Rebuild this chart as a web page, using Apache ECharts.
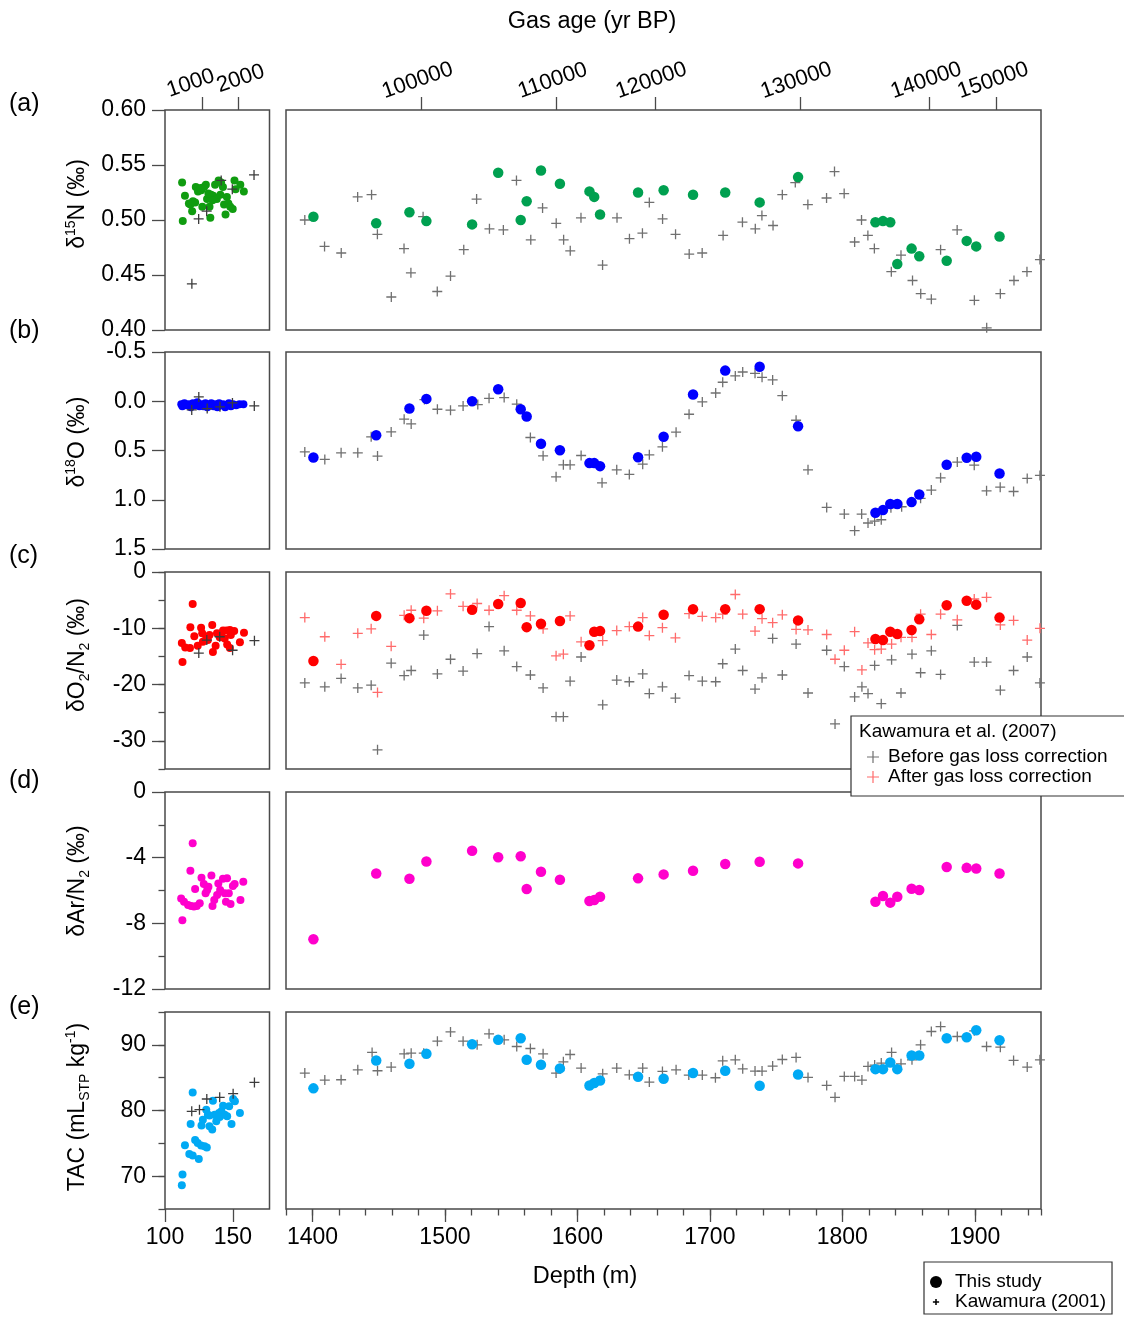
<!DOCTYPE html>
<html>
<head>
<meta charset="utf-8">
<script src="https://cdn.jsdelivr.net/npm/echarts@6/dist/echarts.min.js"></script>
<style>
html, body { margin: 0; padding: 0; background: #fff; }
#chart { width: 1124px; height: 1317px; }
</style>
</head>
<body>
<div id="chart"></div>
<script>
// ---- data: deep samples (this study), shared depths ----
const studyDepth = [1400.7, 1448.1, 1473.2, 1486.0, 1520.5, 1540.2, 1557.2, 1561.7, 1572.5, 1586.8,
    1609.1, 1612.7, 1617.1, 1645.8, 1665.1, 1687.3, 1711.6, 1737.6, 1766.6, 1825.0,
    1830.7, 1836.2, 1841.5, 1852.3, 1858.1, 1878.8, 1893.9, 1901.1, 1918.7];
const d15nDeep = [0.503, 0.497, 0.507, 0.499, 0.496, 0.543, 0.500, 0.517, 0.545, 0.533,
    0.526, 0.521, 0.505, 0.525, 0.527, 0.523, 0.525, 0.516, 0.539, 0.498,
    0.499, 0.498, 0.460, 0.474, 0.467, 0.463, 0.481, 0.476, 0.485];
const d18oDeep = [0.571, 0.345, 0.074, -0.024, 0.000, -0.122, 0.081, 0.155, 0.432, 0.497,
    0.628, 0.628, 0.659, 0.568, 0.361, -0.068, -0.311, -0.351, 0.253, 1.132,
    1.105, 1.044, 1.044, 1.024, 0.946, 0.645, 0.574, 0.564, 0.733];
const o2n2Deep = [-15.8, -7.8, -8.2, -6.9, -6.7, -5.7, -5.5, -9.8, -9.2, -8.7,
    -13.0, -10.6, -10.5, -9.7, -7.6, -6.6, -6.6, -6.6, -8.6, -11.9,
    -12.1, -10.6, -11.0, -10.3, -8.4, -5.9, -5.1, -5.8, -8.1];
const arn2Deep = [-8.97, -4.96, -5.28, -4.23, -3.58, -3.97, -3.91, -5.91, -4.86, -5.34,
    -6.64, -6.58, -6.38, -5.26, -5.02, -4.80, -4.39, -4.25, -4.35, -6.68,
    -6.34, -6.74, -6.38, -5.89, -5.97, -4.57, -4.62, -4.66, -4.96];
const tacDeep = [83.37, 87.62, 87.11, 88.63, 90.10, 90.76, 91.01, 87.72, 86.96, 86.41,
    83.80, 84.18, 84.58, 85.14, 84.84, 85.70, 86.05, 83.77, 85.49, 86.30,
    86.30, 87.32, 86.30, 88.38, 88.38, 91.01, 91.16, 92.23, 90.71];

// ---- data: shallow samples (this study), [depth, value] ----
const d15nShallow = [[112.6,0.534],[114.7,0.522],[113.1,0.499],[117.6,0.515],[118.7,0.514],[120.0,0.508],[120.6,0.517],
    [122.7,0.530],[124.3,0.526],[126.7,0.527],[127.5,0.512],[128.8,0.530],[130.1,0.532],[131.0,0.519],[132.8,0.512],
    [133.4,0.502],[133.9,0.523],[135.5,0.522],[136.9,0.532],[138.2,0.519],[139.5,0.536],[140.8,0.523],[141.3,0.534],
    [142.7,0.530],[143.5,0.514],[144.6,0.505],[145.6,0.521],[146.7,0.515],[148.1,0.512],[149.9,0.510],[151.2,0.536],
    [152.0,0.528],[155.5,0.532],[158.1,0.526],[135.0,0.518],[132.0,0.524],[126.2,0.529],[122.2,0.516]];
const d18oShallow = [[112.0,0.03],[112.8,0.05],[114.3,0.02],[115.9,0.04],[117.6,0.03],[119.0,0.06],[120.6,0.02],
    [122.4,0.04],[123.8,0.01],[125.3,0.05],[126.9,0.03],[128.2,0.05],[129.8,0.02],[131.2,0.06],[132.9,0.04],
    [134.1,0.02],[135.7,0.05],[137.0,0.03],[138.6,0.06],[139.9,0.02],[141.4,0.04],[142.9,0.03],[144.3,0.06],
    [145.8,0.04],[147.1,0.02],[148.6,0.05],[150.2,0.03],[152.4,0.04],[154.9,0.03],[157.8,0.03]];
const o2n2Shallow = [[120.4,-5.7],[112.4,-12.6],[112.9,-16.0],[114.9,-13.4],[118.4,-13.5],[118.7,-9.8],[121.6,-11.4],
    [124.1,-13.1],[126.6,-9.9],[127.4,-10.9],[130.4,-11.8],[132.8,-11.2],[134.8,-9.4],[135.3,-14.2],[137.3,-13.1],
    [138.3,-10.9],[141.6,-10.9],[142.8,-10.4],[144.0,-11.8],[145.3,-10.4],[145.8,-12.9],[147.8,-13.5],[148.5,-11.2],
    [151.0,-10.5],[155.2,-12.5],[158.2,-10.8],[127.9,-12.4],[131.6,-12.1],[140.3,-11.6],[147.8,-10.3]];
const arn2Shallow = [[120.4,-3.12],[112.8,-7.81],[111.9,-6.48],[114.0,-6.68],[117.0,-6.88],[119.2,-6.94],[121.3,-6.98],
    [123.4,-6.94],[125.6,-6.78],[118.7,-4.80],[122.2,-5.91],[126.9,-5.22],[128.6,-5.61],[129.9,-6.17],[131.1,-5.97],
    [132.0,-5.77],[134.2,-5.08],[135.0,-6.94],[136.3,-6.58],[138.4,-6.28],[139.3,-5.57],[140.6,-5.97],[142.7,-5.28],
    [144.0,-6.17],[144.9,-6.68],[145.7,-5.26],[147.0,-6.17],[148.3,-6.82],[150.0,-5.73],[151.3,-5.61],[155.6,-6.58],[157.7,-5.47]];
const tacShallow = [[112.4,68.63],[112.9,70.25],[114.7,74.71],[117.9,73.39],[120.4,73.14],[124.9,72.63],[122.2,75.52],
    [124.1,75.06],[126.6,74.66],[129.1,74.56],[130.8,74.35],[118.9,77.95],[120.4,82.76],[126.9,77.70],[127.9,78.61],
    [130.4,80.13],[131.6,79.37],[132.8,77.59],[134.8,77.09],[135.3,81.49],[136.6,79.37],[137.8,78.35],[139.8,79.62],
    [141.6,79.87],[142.8,80.73],[144.0,79.37],[145.8,79.11],[147.3,80.63],[149.0,77.95],[150.2,81.75],[151.5,81.39],
    [155.2,79.62],[140.3,79.01],[132.8,79.22]];

// ---- data: Kawamura (2001), shallow ----
const d15nKawaShallow = [[119.8,0.442],[124.8,0.501],[130.7,0.508],[141.4,0.536],[149.6,0.528],[165.6,0.541]];
const d18oKawaShallow = [[119.7,0.088],[124.9,-0.044],[131.1,0.074],[140.5,0.057],[149.7,0.017],[165.8,0.047]];
const o2n2KawaShallow = [[124.9,-14.4],[130.8,-12.1],[140.3,-11.5],[149.8,-13.9],[165.9,-12.2]];
const tacKawaShallow = [[119.7,79.87],[125.4,80.13],[130.8,81.75],[140.3,82.0],[150.2,82.56],[165.9,84.28]];

// ---- data: Kawamura, deep ----
const d15nKawaDeep = [[1394.2,0.500],[1409.1,0.476],[1421.7,0.470],[1434.1,0.521],[1444.6,0.523],[1449,0.487],[1459.5,0.430],
    [1469.1,0.474],[1474.3,0.452],[1483.5,0.503],[1494.2,0.435],[1504.2,0.449],[1514.2,0.473],[1523.9,0.519],[1533.6,0.492],
    [1544.1,0.491],[1554,0.536],[1564.8,0.482],[1573.7,0.511],[1584,0.497],[1589.6,0.482],[1594.6,0.472],[1602.7,0.502],
    [1619,0.459],[1629.9,0.502],[1639.3,0.483],[1649.1,0.488],[1654.3,0.516],[1664.3,0.501],[1674.1,0.487],[1684.4,0.469],
    [1694.2,0.470],[1710,0.486],[1724.6,0.498],[1734.3,0.492],[1739.3,0.504],[1747.7,0.495],[1754.7,0.523],[1764.5,0.534],
    [1774,0.514],[1788.1,0.520],[1794.1,0.544],[1801.4,0.524],[1809.3,0.480],[1814.5,0.500],[1819.3,0.486],[1824.2,0.474],
    [1837,0.453],[1844.3,0.468],[1853,0.445],[1859.2,0.433],[1867.2,0.428],[1874.2,0.473],[1886.7,0.491],[1899.7,0.427],
    [1909,0.402],[1919.3,0.433],[1929.6,0.445],[1939.4,0.453],[1949.2,0.464]];
const d18oKawaDeep = [[1394.2,0.514],[1409.3,0.591],[1421.6,0.524],[1434.2,0.524],[1444.3,0.361],[1449.1,0.557],[1459.4,0.311],
    [1469.2,0.182],[1474.5,0.230],[1484.5,-0.017],[1494.3,0.081],[1504.2,0.091],[1513.7,0.047],[1524.8,0.034],[1533.3,-0.030],
    [1544.7,-0.037],[1554.2,0.030],[1564.5,0.368],[1574.1,0.554],[1583.9,0.767],[1589.4,0.645],[1594.5,0.645],[1602.8,0.551],
    [1618.6,0.828],[1629.7,0.696],[1639.2,0.743],[1649.3,0.639],[1654.3,0.544],[1664.2,0.463],[1674.5,0.314],[1684.3,0.132],
    [1694.3,0.007],[1704.4,-0.084],[1709.7,-0.193],[1719.2,-0.257],[1724.8,-0.297],[1734.1,-0.284],[1739.4,-0.243],
    [1747.4,-0.216],[1754.7,-0.057],[1765.1,0.193],[1774.1,0.696],[1788.2,1.078],[1801.5,1.145],[1809.3,1.314],[1814.6,1.145],
    [1819.4,1.236],[1824.4,1.216],[1829.4,1.203],[1836.7,1.081],[1844.8,1.071],[1859.1,0.986],[1867.2,0.902],[1874.2,0.777],
    [1886.8,0.618],[1899.6,0.649],[1908.9,0.909],[1919.2,0.872],[1929.3,0.916],[1939.6,0.784],[1949.2,0.753]];
const o2n2BeforeDeep = [[1394.2,-19.7],[1409.3,-20.4],[1421.6,-18.9],[1434.2,-20.6],[1444.3,-20.1],[1449.1,-31.6],[1459.4,-16.2],
    [1469.2,-18.4],[1474.5,-17.5],[1484,-11.2],[1494.3,-18.1],[1504.2,-15.5],[1513.7,-17.6],[1524.3,-14.5],[1533.3,-9.7],
    [1544.7,-14.0],[1554.2,-16.8],[1564.5,-18.3],[1574.1,-20.6],[1583.9,-25.7],[1589.4,-25.7],[1594.5,-19.4],[1602.8,-15.1],
    [1619.1,-23.6],[1629.7,-19.2],[1639.2,-19.5],[1649.3,-18.1],[1654.3,-21.6],[1664.2,-20.4],[1674,-22.4],[1684.3,-18.4],
    [1694.3,-19.4],[1704.4,-19.5],[1709.7,-16.3],[1719.2,-13.7],[1724.8,-17.5],[1734.1,-20.8],[1739.4,-18.8],[1747.4,-11.8],
    [1754.7,-18.3],[1765.1,-12.8],[1774.1,-21.5],[1788.2,-13.9],[1794.5,-27.0],[1801.5,-16.8],[1809.3,-22.2],[1814.8,-20.4],
    [1819.4,-21.6],[1824.4,-16.6],[1829.4,-23.4],[1837.2,-15.6],[1844.3,-21.5],[1852.6,-14.6],[1859.1,-17.9],[1867.2,-14.0],
    [1874.2,-18.2],[1886.8,-9.5],[1899.6,-16.0],[1908.9,-16.0],[1919.3,-21.0],[1929.3,-17.5],[1939.6,-15.1],[1949.2,-19.7]];
const o2n2AfterDeep = [[1394.2,-8.1],[1409.3,-11.5],[1421.6,-16.4],[1434.2,-10.9],[1444.3,-10.1],[1449.1,-21.4],[1459.4,-13.2],
    [1469.2,-7.7],[1474.5,-6.8],[1484,-8.2],[1494.3,-6.9],[1504.2,-3.9],[1513.7,-6.1],[1524.3,-5.6],[1533.3,-6.8],
    [1544.7,-4.2],[1554.2,-6.8],[1564.5,-7.8],[1574.1,-10.1],[1583.9,-14.9],[1589.4,-14.6],[1594.5,-7.8],[1602.8,-12.4],
    [1619.1,-12.2],[1629.7,-10.4],[1639.2,-9.7],[1649.3,-8.1],[1654.3,-11.3],[1664.2,-9.9],[1674,-11.7],[1684.3,-7.4],
    [1694.3,-7.9],[1704.4,-8.1],[1709.7,-7.5],[1719.2,-4.0],[1724.8,-7.5],[1734.1,-10.5],[1739.4,-8.3],[1747.4,-9.0],
    [1754.7,-7.6],[1765.1,-10.2],[1774.1,-10.3],[1788.2,-11.1],[1794.5,-15.5],[1801.5,-13.9],[1809.3,-10.6],[1814.8,-17.4],
    [1819.4,-12.6],[1824.4,-13.8],[1829.4,-13.7],[1837.2,-12.8],[1844.3,-11.6],[1852.6,-11.6],[1859.1,-7.5],[1867.2,-11.1],
    [1874.2,-7.5],[1886.8,-8.5],[1899.6,-4.8],[1908.9,-4.5],[1919.3,-9.4],[1929.3,-8.6],[1939.6,-12.1],[1949.2,-10.0]];
const tacKawaDeep = [[1394.2,85.70],[1409.3,84.63],[1421.6,84.68],[1434.2,86.20],[1445,88.84],[1449.1,86.05],[1459.4,86.61],
    [1469.2,88.63],[1474.5,88.73],[1484,88.73],[1494.3,90.56],[1504.2,91.97],[1513.7,90.56],[1524.3,90.00],[1533.3,91.67],
    [1544.7,90.76],[1554.2,89.75],[1564.5,89.44],[1574.1,88.63],[1583.9,85.70],[1589.4,87.42],[1594.5,88.53],[1602.8,86.46],
    [1619.1,85.59],[1629.7,86.46],[1639.2,85.44],[1649.3,86.46],[1654.3,84.33],[1664.2,85.95],[1674.5,86.20],[1684.1,85.39],
    [1694.3,85.39],[1704.2,84.99],[1709.7,87.57],[1719.2,87.72],[1724.8,86.35],[1734.1,86.00],[1739.4,86.00],[1747.4,86.76],
    [1754.7,87.77],[1765.1,88.08],[1774.1,85.04],[1788.2,83.82],[1794.5,82.00],[1801.5,85.19],[1809.3,85.19],[1814.8,84.63],
    [1819.4,86.71],[1824.4,86.91],[1829.4,87.22],[1837.2,88.84],[1844.3,87.11],[1852.6,87.72],[1859.1,90.00],[1867.2,92.03],
    [1874.2,92.78],[1886.8,91.27],[1899.6,92.13],[1908.9,89.75],[1919.3,89.65],[1929.3,87.62],[1939.6,86.61],[1949.2,87.72]];

// ---- tick labels ----
const depthTicksShallow = [100, 150];
const depthTicksDeep = [1400, 1500, 1600, 1700, 1800, 1900];
const ageLabelsShallow = ['1000', '2000'];
const ageDepthShallow = [127.2, 154.2];
const ageLabelsDeep = ['100000', '110000', '120000', '130000', '140000', '150000'];
const ageDepthDeep = [1482, 1584, 1658.5, 1768, 1866, 1916.5];
const o2n2Ticks = [-30, -20, -10, 0];
const tacTicks = [70, 80, 90];

// ---- styling ----
const FONT = '"Liberation Sans", Arial, Helvetica, sans-serif';
const BORDER = '#4a4a4a';
const PLUS = 'path://M0,4.35H10V5.65H0Z M4.35,0H5.65V10H4.35Z';
const PLUS_LEG = 'path://M0,4.5H10V5.5H0Z M4.5,0H5.5V10H4.5Z';
const PLUS_SMALL = 'path://M0,0H0.01V0.01H0Z M9.99,9.99H10V10H9.99Z M2.4,4.35H7.6V5.65H2.4Z M4.35,2.4H5.65V7.6H4.35Z';
const rowTop = [110, 352, 572, 792, 1012];
const rowHeight = [220, 197, 197, 197, 197];
const shallowColor = ['#109c10', '#0000ff', '#ff0000', '#ff00cc', '#00a9f4'];
const deepColor = ['#00a050', '#0000ff', '#ff0000', '#ff00cc', '#00a9f4'];
const tickLine = { color: BORDER, width: 1.3 };
const tickLabel = { color: '#000', fontSize: 23, fontFamily: FONT };

const yCfg = [
    { min: 0.40, max: 0.60, interval: 0.05, formatter: function (v) { return v.toFixed(2); } },
    { min: -0.5, max: 1.5, interval: 0.5, inverse: true, formatter: function (v) { return v.toFixed(1); } },
    { min: -35, max: 0, custom: o2n2Ticks, minorStep: 5 },
    { min: -12, max: 0, interval: 4, minorSplit: 2 },
    { min: 65, max: 95, custom: tacTicks, minorStep: 5 }
];

const grid = [], xAxis = [], yAxis = [], series = [];

for (let r = 0; r < 5; r++) {
    grid.push({ left: 165, top: rowTop[r], width: 104.5, height: rowHeight[r], show: true, borderColor: BORDER, borderWidth: 1.5 });
    grid.push({ left: 286, top: rowTop[r], width: 755, height: rowHeight[r], show: true, borderColor: BORDER, borderWidth: 1.5 });
}

// bottom depth axes, one per grid
for (let i = 0; i < 10; i++) {
    const shallow = i % 2 === 0;
    const xa = {
        gridIndex: i, type: 'value', position: 'bottom',
        min: shallow ? 100 : 1380, max: shallow ? 177 : 1950,
        splitLine: { show: false }, axisLine: { show: false }
    };
    if (i < 8) {
        xa.show = false;
    } else {
        const ticks = shallow ? depthTicksShallow : depthTicksDeep;
        xa.axisTick = { length: 13, customValues: ticks, lineStyle: tickLine };
        xa.axisLabel = Object.assign({
            customValues: ticks, margin: 17, interval: 0, hideOverlap: false,
            showMinLabel: true, showMaxLabel: true,
            formatter: function (v) { return String(v); }
        }, tickLabel);
    }
    xAxis.push(xa);
}
// minor depth ticks of the deep panel
xAxis.push({
    gridIndex: 9, type: 'value', position: 'bottom', min: 1380, max: 1950, interval: 20,
    splitLine: { show: false }, axisLine: { show: false },
    axisTick: { length: 6.5, lineStyle: tickLine }, axisLabel: { show: false }
});
// gas age axes on top: one axis per label so that the tilted labels are never auto-hidden
function ageAxis(g, min, max, depth, label, shift) {
    return {
        gridIndex: g, type: 'value', position: 'top', min: min, max: max,
        splitLine: { show: false }, axisLine: { show: false },
        axisTick: { length: 13, customValues: [depth], lineStyle: tickLine },
        axisLabel: {
            customValues: [depth], rotate: -19, align: 'center', verticalAlign: 'bottom', margin: 19,
            interval: 0, hideOverlap: false,
            color: '#000', fontSize: 22, fontFamily: FONT,
            formatter: function () { return shift ? '{' + shift + '|' + label + '}' : label; },
            rich: {
                l: { fontSize: 22, fontFamily: FONT, color: '#000', padding: [0, 16, 0, 0] },
                r: { fontSize: 22, fontFamily: FONT, color: '#000', padding: [0, 0, 0, 12] }
            }
        }
    };
}
ageLabelsShallow.forEach(function (lab, k) {
    xAxis.push(ageAxis(0, 100, 177, ageDepthShallow[k], lab, k === 0 ? 'l' : 'r'));
});
ageLabelsDeep.forEach(function (lab, k) {
    xAxis.push(ageAxis(1, 1380, 1950, ageDepthDeep[k], lab, null));
});

// y axes
yCfg.forEach(function (c, r) {
    const ya = {
        gridIndex: 2 * r, type: 'value', position: 'left', min: c.min, max: c.max, inverse: !!c.inverse,
        splitLine: { show: false }, axisLine: { show: false },
        axisTick: { show: true, length: 13, lineStyle: tickLine },
        axisLabel: Object.assign({ margin: 19, showMinLabel: true, showMaxLabel: true }, tickLabel)
    };
    if (c.interval) ya.interval = c.interval;
    if (c.formatter) ya.axisLabel.formatter = c.formatter;
    if (c.custom) {
        ya.axisTick.customValues = c.custom;
        ya.axisLabel.customValues = c.custom;
    }
    if (c.minorSplit) ya.minorTick = { show: true, splitNumber: c.minorSplit, length: 6.5, lineStyle: tickLine };
    yAxis.push(ya);
    yAxis.push({ gridIndex: 2 * r + 1, type: 'value', min: c.min, max: c.max, inverse: !!c.inverse, show: false });
});
yCfg.forEach(function (c, r) {
    if (!c.minorStep) return;
    yAxis.push({
        gridIndex: 2 * r, type: 'value', position: 'left', min: c.min, max: c.max, interval: c.minorStep,
        splitLine: { show: false }, axisLine: { show: false },
        axisTick: { length: 6.5, lineStyle: tickLine }, axisLabel: { show: false }
    });
});

function scatter(name, g, data, symbol, size, color, z) {
    return {
        name: name, type: 'scatter', xAxisIndex: g, yAxisIndex: g, data: data,
        symbol: symbol, symbolSize: size, itemStyle: { color: color, opacity: 1 },
        z: z, silent: true
    };
}
function zipDeep(vals) {
    return studyDepth.map(function (d, i) { return [d, vals[i]]; });
}

const shallowStudy = [d15nShallow, d18oShallow, o2n2Shallow, arn2Shallow, tacShallow];
const shallowKawa = [d15nKawaShallow, d18oKawaShallow, o2n2KawaShallow, null, tacKawaShallow];
const deepStudy = [d15nDeep, d18oDeep, o2n2Deep, arn2Deep, tacDeep];
const deepKawa = [d15nKawaDeep, d18oKawaDeep, null, null, tacKawaDeep];

for (let r = 0; r < 5; r++) {
    series.push(scatter('This study', 2 * r, shallowStudy[r], 'circle', 8, shallowColor[r], 2));
    if (shallowKawa[r]) series.push(scatter('Kawamura (2001)', 2 * r, shallowKawa[r], PLUS, 10, '#3c3c3c', 3));
    if (deepKawa[r]) series.push(scatter('Kawamura (2001)', 2 * r + 1, deepKawa[r], PLUS, 10, '#707070', 2));
    if (r === 2) {
        series.push(scatter('Before gas loss correction', 5, o2n2BeforeDeep, PLUS, 10, '#707070', 2));
        series.push(scatter('After gas loss correction', 5, o2n2AfterDeep, PLUS, 10, '#ff6b6b', 2));
    }
    series.push(scatter('This study', 2 * r + 1, zipDeep(deepStudy[r]), 'circle', 10.5, deepColor[r], 3));
}

// axis titles (rich text for sub/superscripts)
const titleRich = {
    n: { fontSize: 23, fontFamily: FONT, color: '#000', lineHeight: 28 },
    s: { fontSize: 14, fontFamily: FONT, color: '#000', verticalAlign: 'top', lineHeight: 14 },
    u: { fontSize: 14, fontFamily: FONT, color: '#000', verticalAlign: 'bottom', lineHeight: 14 }
};
const yTitles = [
    '{n|δ}{s|15}{n|N (‰)}',
    '{n|δ}{s|18}{n|O (‰)}',
    '{n|δO}{u|2}{n|/N}{u|2}{n| (‰)}',
    '{n|δAr/N}{u|2}{n| (‰)}',
    '{n|TAC (mL}{u|STP}{n| kg}{s|-1}{n|)}'
];
const yTitleCenter = [204, 442, 655, 881, 1107];
const panelTags = ['(a)', '(b)', '(c)', '(d)', '(e)'];
const panelTagY = [104, 331, 556, 781, 1007];

const graphic = [];
yTitles.forEach(function (t, r) {
    graphic.push({
        type: 'text', x: 78, y: yTitleCenter[r], rotation: Math.PI / 2, silent: true,
        style: { text: t, rich: titleRich, align: 'center', verticalAlign: 'middle', fontSize: 23, fontFamily: FONT, fill: '#000' }
    });
});
panelTags.forEach(function (t, r) {
    graphic.push({
        type: 'text', x: 9, y: panelTagY[r], silent: true,
        style: { text: t, align: 'left', verticalAlign: 'middle', fontSize: 25, fontFamily: FONT, fill: '#000' }
    });
});
graphic.push({
    type: 'text', x: 592, y: 22, silent: true,
    style: { text: 'Gas age (yr BP)', align: 'center', verticalAlign: 'middle', fontSize: 23.5, fontFamily: FONT, fill: '#000' }
});
graphic.push({
    type: 'text', x: 585, y: 1277, silent: true,
    style: { text: 'Depth (m)', align: 'center', verticalAlign: 'middle', fontSize: 23.5, fontFamily: FONT, fill: '#000' }
});
graphic.push({
    type: 'text', x: 859, y: 732, z: 50, silent: true,
    style: { text: 'Kawamura et al. (2007)', align: 'left', verticalAlign: 'middle', fontSize: 19, fontFamily: FONT, fill: '#000' }
});

const legendText = { color: '#000', fontSize: 19, fontFamily: FONT, lineHeight: 20 };

const chart = echarts.init(document.getElementById('chart'), null, { renderer: 'canvas' });
chart.setOption({
    animation: false,
    backgroundColor: '#fff',
    grid: grid,
    xAxis: xAxis,
    yAxis: yAxis,
    legend: [
        {
            data: [
                { name: 'Before gas loss correction', icon: PLUS_LEG },
                { name: 'After gas loss correction', icon: PLUS_LEG }
            ],
            orient: 'vertical', left: 851, top: 716, itemWidth: 20, itemHeight: 12, itemGap: 0,
            padding: [31, 20, 9, 16], backgroundColor: '#fff', borderColor: '#333', borderWidth: 1.2,
            selectedMode: false, textStyle: legendText
        },
        {
            data: [
                { name: 'This study', icon: 'circle', itemStyle: { color: '#000' } },
                { name: 'Kawamura (2001)', icon: PLUS_SMALL, itemStyle: { color: '#000' } }
            ],
            orient: 'vertical', left: 924, top: 1262, itemWidth: 28, itemHeight: 12, itemGap: 0,
            padding: [10, 6, 2, 6], backgroundColor: '#fff', borderColor: '#333', borderWidth: 1.2,
            selectedMode: false, textStyle: legendText
        }
    ],
    graphic: graphic,
    series: series
});
</script>
</body>
</html>
